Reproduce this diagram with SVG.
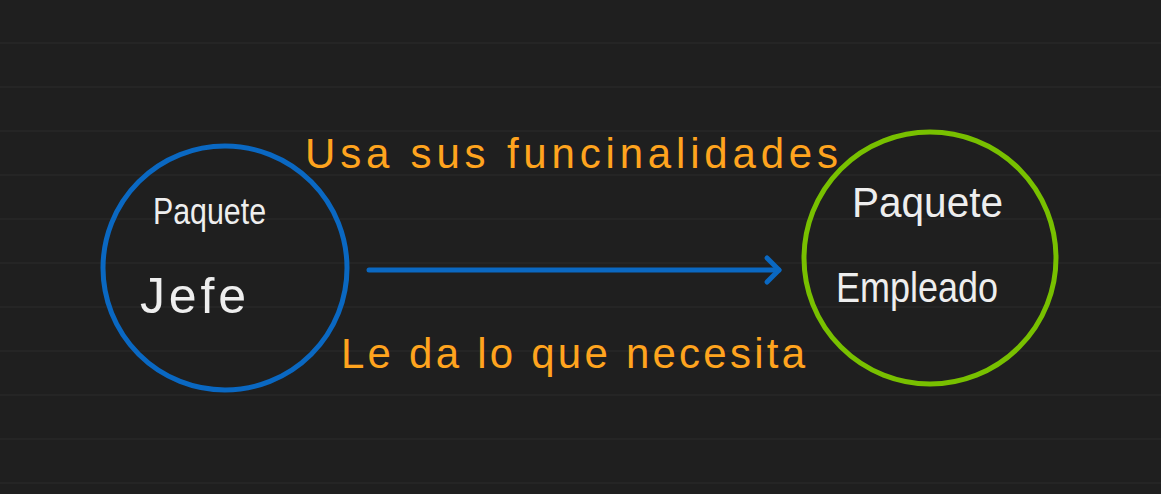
<svg xmlns="http://www.w3.org/2000/svg" width="1161" height="494" viewBox="0 0 1161 494">
<defs>
<style>
.rule{stroke:#282828;stroke-width:1.5}
.lbl{font-family:"Liberation Sans",Arial,sans-serif;fill:#ffa41e}
.nd{font-family:"Liberation Sans",Arial,sans-serif;fill:#eeeeee}
</style>
</defs>
<rect width="1161" height="494" fill="#1f1f1f"/>
<g id="rules">
<line class="rule" x1="0" y1="43" x2="1161" y2="43"/>
<line class="rule" x1="0" y1="87" x2="1161" y2="87"/>
<line class="rule" x1="0" y1="131" x2="1161" y2="131"/>
<line class="rule" x1="0" y1="175" x2="1161" y2="175"/>
<line class="rule" x1="0" y1="219" x2="1161" y2="219"/>
<line class="rule" x1="0" y1="263" x2="1161" y2="263"/>
<line class="rule" x1="0" y1="307" x2="1161" y2="307"/>
<line class="rule" x1="0" y1="351" x2="1161" y2="351"/>
<line class="rule" x1="0" y1="395" x2="1161" y2="395"/>
<line class="rule" x1="0" y1="439" x2="1161" y2="439"/>
<line class="rule" x1="0" y1="483" x2="1161" y2="483"/>
</g>
<g id="connectors">
<line x1="369" y1="270" x2="779" y2="270" stroke="#0a68c2" stroke-width="5" stroke-linecap="round"/>
<polyline points="767,258 779,270 767,282" fill="none" stroke="#0a68c2" stroke-width="5" stroke-linecap="round" stroke-linejoin="round"/>
<text class="lbl" x="305" y="168" font-size="42" textLength="533" lengthAdjust="spacing">Usa sus funcinalidades</text>
<text class="lbl" x="341" y="368" font-size="42" textLength="464" lengthAdjust="spacing">Le da lo que necesita</text>
</g>
<g id="node-jefe">
<circle cx="225" cy="268" r="122" fill="none" stroke="#0a68c2" stroke-width="5"/>
<text class="nd" x="153" y="224" font-size="36" textLength="113" lengthAdjust="spacingAndGlyphs">Paquete</text>
<text class="nd" x="140" y="313" font-size="50" textLength="106" lengthAdjust="spacing">Jefe</text>
</g>
<g id="node-empleado">
<circle cx="930" cy="258" r="126" fill="none" stroke="#78c000" stroke-width="5"/>
<text class="nd" x="852" y="217" font-size="42" textLength="151" lengthAdjust="spacingAndGlyphs">Paquete</text>
<text class="nd" x="836" y="302" font-size="42" textLength="162" lengthAdjust="spacingAndGlyphs">Empleado</text>
</g>
</svg>
